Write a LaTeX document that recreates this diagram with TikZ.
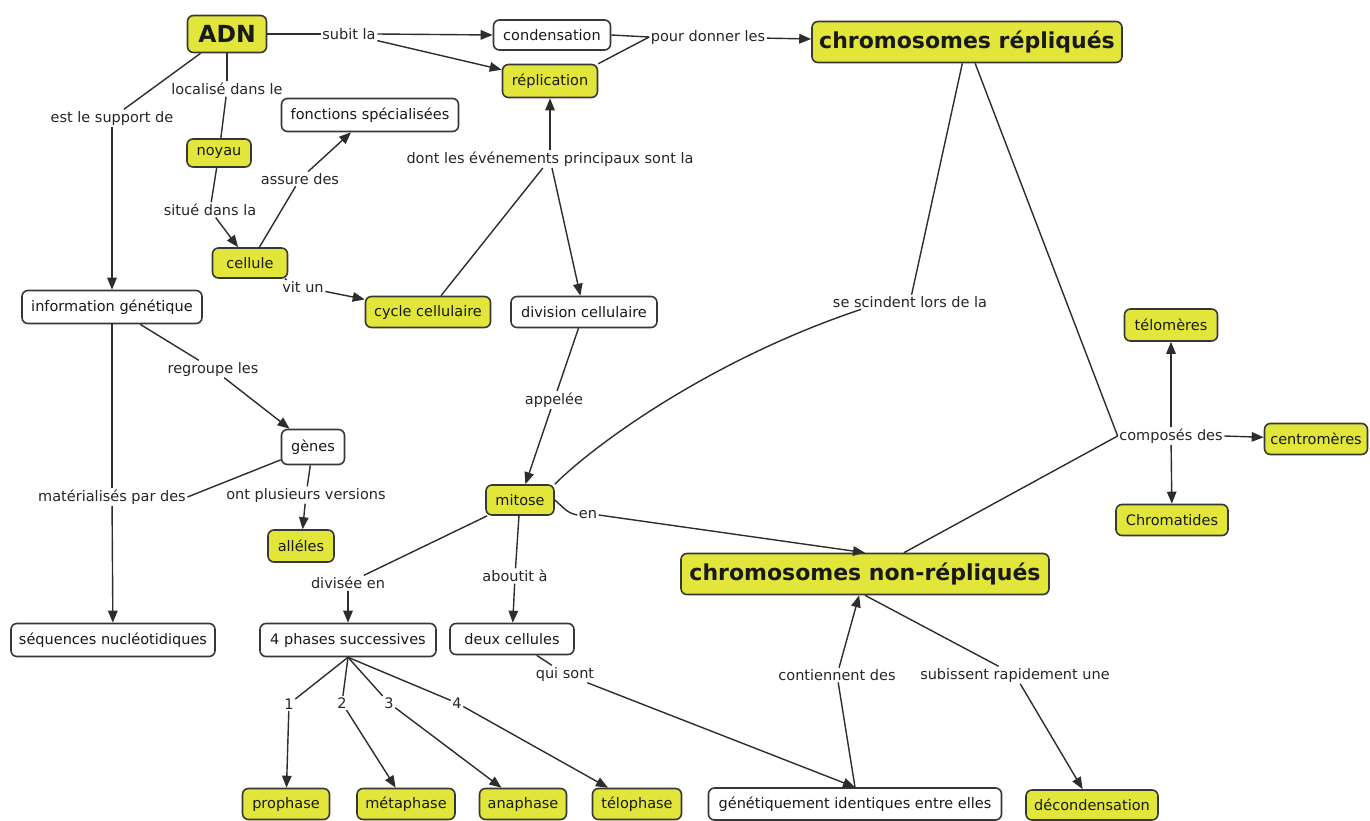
\documentclass[tikz,border=0pt]{standalone}
\usepackage{fontspec}
\setmainfont{DejaVu Sans}
\usetikzlibrary{arrows.meta}
\definecolor{cyel}{RGB}{226,229,58}
\definecolor{cline}{RGB}{45,45,45}
\definecolor{cborder}{RGB}{55,55,55}
\begin{document}
\begin{tikzpicture}[x=1pt,y=-1pt,
  concept/.style={draw=cborder, line width=1.6pt, rounded corners=6pt, minimum height=32pt,
    inner xsep=5pt, inner ysep=3pt, font=\fontsize{14.5}{17}\selectfont, text=black!90},
  yc/.style={concept, fill=cyel},
  wc/.style={concept, fill=white},
  big/.style={yc, font=\fontsize{22}{26}\selectfont\bfseries, minimum height=41pt, inner xsep=6pt},
  lbl/.style={font=\fontsize{14.5}{17}\selectfont, inner sep=1.5pt, text=black!85},
  con/.style={draw=cline, line width=1.4pt},
  arr/.style={con, -{Triangle[length=12pt,width=9.5pt]}}
]
\useasboundingbox[fill=white] (0,0) rectangle (1370,820);

% concepts
\node[big, font=\fontsize{23.5}{27}\selectfont\bfseries, minimum width=79pt, minimum height=37pt] (adn) at (227,34) {ADN};
\node[wc, minimum width=117pt, minimum height=30pt] (cond) at (552,35) {condensation};
\node[yc, minimum width=95pt, minimum height=33pt] (rep) at (550,81) {réplication};
\node[big, minimum width=310pt] (crep) at (967,42) {chromosomes répliqués};
\node[wc, minimum width=177pt, minimum height=33pt] (fonc) at (370,115) {fonctions spécialisées};
\node[yc, minimum width=64pt, minimum height=28pt] (noy) at (219,153) {noyau};
\node[yc, minimum width=75pt, minimum height=30pt] (cel) at (250,263) {cellule};
\node[wc, minimum width=180pt, minimum height=33pt] (ig) at (112,307) {information génétique};
\node[yc, minimum width=125pt, minimum height=31pt] (cyc) at (428,312) {cycle cellulaire};
\node[wc, minimum width=146pt, minimum height=31pt] (div) at (584,312) {division cellulaire};
\node[yc, minimum width=93pt, minimum height=32pt] (telo) at (1171,325) {télomères};
\node[yc, minimum width=103pt, minimum height=31pt] (centro) at (1316,439) {centromères};
\node[yc, minimum width=112pt, minimum height=31pt] (chrom) at (1172,520) {Chromatides};
\node[wc, minimum width=63pt, minimum height=35pt] (gen) at (313,447) {gènes};
\node[yc, minimum width=66pt, minimum height=32pt] (all) at (301,546) {alléles};
\node[yc, minimum width=68pt, minimum height=30pt] (mit) at (520,500) {mitose};
\node[big, minimum width=368pt] (cnr) at (865,574) {chromosomes non-répliqués};
\node[wc, minimum width=204pt, minimum height=33pt] (seq) at (113,640) {séquences nucléotidiques};
\node[wc, minimum width=176pt, minimum height=33pt] (ph) at (348,640) {4 phases successives};
\node[wc, minimum width=124pt, minimum height=31pt] (deux) at (512,639) {deux cellules};
\node[yc, minimum width=87pt, minimum height=31pt] (pro) at (286,804) {prophase};
\node[yc, minimum width=98pt, minimum height=31pt] (meta) at (406,804) {métaphase};
\node[yc, minimum width=87pt, minimum height=31pt] (ana) at (523,804) {anaphase};
\node[yc, minimum width=89pt, minimum height=31pt] (telp) at (637,804) {télophase};
\node[wc, minimum width=293pt, minimum height=32pt] (gid) at (855,804) {génétiquement identiques entre elles};
\node[yc, minimum width=132pt, minimum height=30pt] (dec) at (1092,805) {décondensation};

% linking phrases
\node[lbl] (sub) at (349,34) {subit la};
\node[lbl] (pdl) at (708,37) {pour donner les};
\node[lbl] (loc) at (227,89) {localisé dans le};
\node[lbl] (esd) at (112,118) {est le support de};
\node[lbl] (ass) at (300,179) {assure des};
\node[lbl] (sit) at (210,210) {situé dans la};
\node[lbl] (dont) at (550,159) {dont les événements principaux sont la};
\node[lbl] (vit) at (303,287) {vit un};
\node[lbl] (ssl) at (910,302) {se scindent lors de la};
\node[lbl] (reg) at (213,369) {regroupe les};
\node[lbl] (comp) at (1171,436) {composés des};
\node[lbl] (app) at (554,400) {appelée};
\node[lbl] (mat) at (112,497) {matérialisés par des};
\node[lbl] (opv) at (306,495) {ont plusieurs versions};
\node[lbl] (en) at (588,515) {en};
\node[lbl] (dive) at (348,583) {divisée en};
\node[lbl] (abo) at (515,576) {aboutit à};
\node[lbl] (qs) at (565,674) {qui sont};
\node[lbl] (cont) at (837,675) {contiennent des};
\node[lbl] (subr) at (1015,675) {subissent rapidement une};
\node[lbl] (n1) at (289,704) {1};
\node[lbl] (n2) at (342,703) {2};
\node[lbl] (n3) at (389,703) {3};
\node[lbl] (n4) at (457,703) {4};

% connectors
\draw[con] (adn) -- (sub);
\draw[arr] (sub.east) -- (cond.west);
\draw[arr] (sub) -- (rep);
\draw[con] (cond.east) -- (pdl.west);
\draw[con] (rep.north east) -- (pdl.west);
\draw[arr] (pdl) -- (crep);
\draw[con] (adn) -- (loc);
\draw[con] (loc) -- (noy);
\draw[con] (adn) -- (esd);
\draw[arr] (esd) -- (ig);
\draw[con] (noy) -- (sit);
\draw[arr] (sit) -- (cel);
\draw[con] (cel) -- (ass);
\draw[arr] (ass) -- (fonc);
\draw[con] (cel) -- (vit);
\draw[arr] (vit) -- (cyc);
\draw[con] (cyc) -- (dont);
\draw[arr] (dont) -- (rep);
\draw[arr] (dont) -- (div);
\draw[con] (div) -- (app);
\draw[arr] (app) -- (mit);
\draw[con] (ig) -- (reg);
\draw[arr] (reg) -- (gen);
\draw[con] (ig) -- (mat);
\draw[con] (gen) -- (mat.east);
\draw[arr] (mat) -- (seq);
\draw[con] (gen) -- (opv);
\draw[arr] (opv) -- (all);
\draw[con] (mit) -- (dive);
\draw[arr] (dive) -- (ph);
\draw[con] (mit) -- (abo);
\draw[arr] (abo) -- (deux);
\draw[con] (mit.east) to[out=-40,in=170] (en.west);
\draw[arr] (en.east) -- (cnr.north);
\draw[con] (crep) -- (ssl);
\draw[con] ([xshift=30pt]ssl.south west) .. controls +(-150,50) and +(40,-40) .. (mit.north east);
\draw[con] (crep) -- (comp.west);
\draw[con] (cnr) -- (comp.west);
\draw[arr] (comp) -- (telo);
\draw[arr] (comp) -- (chrom);
\draw[arr] (comp.east) -- (centro);
\draw[con] (ph.south) -- (n1);
\draw[con] (ph.south) -- (n2);
\draw[con] (ph.south) -- (n3);
\draw[con] (ph.south) -- (n4);
\draw[arr] (n1) -- (pro);
\draw[arr] (n2) -- (meta);
\draw[arr] (n3) -- (ana);
\draw[arr] (n4) -- (telp);
\draw[con] (deux) -- (qs);
\draw[arr] (qs) -- (gid.north);
\draw[con] (gid.north) -- (cont);
\draw[arr] (cont) -- (cnr);
\draw[con] (cnr.south) -- (subr);
\draw[arr] (subr) -- (dec);
\end{tikzpicture}
\end{document}
